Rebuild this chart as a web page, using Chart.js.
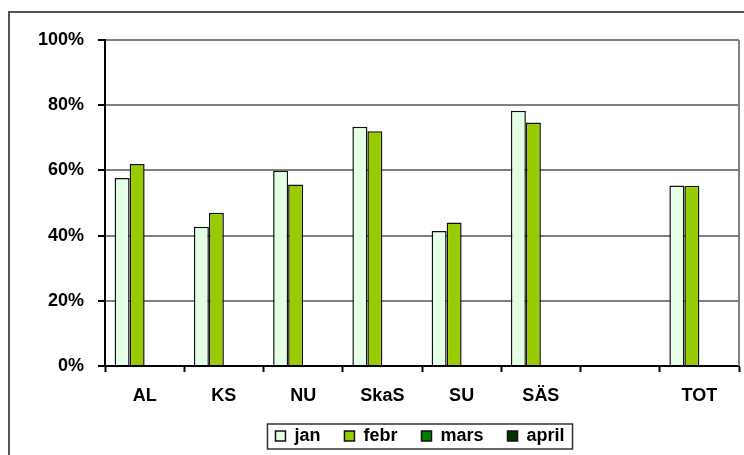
<!DOCTYPE html>
<html><head><meta charset="utf-8">
<script src="https://cdn.jsdelivr.net/npm/chart.js@4/dist/chart.umd.min.js"></script>
<style>html,body{margin:0;padding:0;background:#fff}#wrap{position:relative;width:744px;height:455px}</style>
</head><body><div id="wrap"><canvas id="c" width="744" height="455"></canvas></div>
<script>
const categories = ['AL', 'KS', 'NU', 'SkaS', 'SU', 'SÄS', '', 'TOT'];
const seriesNames = ['jan', 'febr', 'mars', 'april'];
const janValues = [57.7, 42.7, 59.9, 73.4, 41.4, 78.3, null, 55.4];
const febrValues = [62.0, 47.0, 55.7, 72.0, 44.0, 74.7, null, 55.3];
const marsValues = [null, null, null, null, null, null, null, null];
const aprilValues = [null, null, null, null, null, null, null, null];
const yTicks = [0, 20, 40, 60, 80, 100];

const FONT = {family: '"Liberation Sans", Arial, sans-serif', size: 18, weight: 'bold', lineHeight: 1};
const LEGEND_CENTER = 420;

const framePlugin = {
  id: 'frame',
  beforeDraw(chart) {
    const lg = chart.legend;
    if (!lg || lg._shifted) return;
    const hb = lg.legendHitBoxes || [];
    if (!hb.length) return;
    let l = Infinity, r = -Infinity;
    hb.forEach(h => { l = Math.min(l, h.left); r = Math.max(r, h.left + h.width); });
    const d = LEGEND_CENTER - (l + r) / 2;
    lg.left += d; lg.right += d;
    hb.forEach(h => { h.left += d; });
    lg._shifted = true;
  },
  afterDraw(chart) {
    const ctx = chart.ctx, a = chart.chartArea;
    ctx.save();
    ctx.strokeStyle = '#555';
    ctx.lineWidth = 2;
    ctx.beginPath();
    ctx.moveTo(9, 455); ctx.lineTo(9, 12); ctx.lineTo(744, 12);
    ctx.stroke();
    ctx.strokeStyle = '#808080';
    ctx.beginPath();
    ctx.moveTo(a.right, a.top); ctx.lineTo(a.right, a.bottom);
    ctx.stroke();
    const lg = chart.legend;
    if (lg && lg.legendHitBoxes && lg.legendHitBoxes.length) {
      const hb = lg.legendHitBoxes;
      let l = Infinity, r = -Infinity, t = Infinity, b = -Infinity;
      hb.forEach(h => { l = Math.min(l, h.left); r = Math.max(r, h.left + h.width); t = Math.min(t, h.top); b = Math.max(b, h.top + h.height); });
      ctx.strokeStyle = '#333';
      ctx.lineWidth = 1.5;
      ctx.strokeRect(l - 8, t - 3, (r - l) + 16, (b - t) + 7);
    }
    ctx.restore();
  }
};

new Chart(document.getElementById('c'), {
  type: 'bar',
  data: {
    labels: categories,
    datasets: [
      {label: seriesNames[0], data: janValues, backgroundColor: '#e4ffe4', borderColor: '#111', borderWidth: 1.5},
      {label: seriesNames[1], data: febrValues, backgroundColor: '#99cc00', borderColor: '#111', borderWidth: 1.5},
      {label: seriesNames[2], data: marsValues, backgroundColor: '#008000', borderColor: '#111', borderWidth: 1.5},
      {label: seriesNames[3], data: aprilValues, backgroundColor: '#003300', borderColor: '#111', borderWidth: 1.5}
    ]
  },
  options: {
    responsive: false,
    animation: false,
    devicePixelRatio: 1,
    layout: {padding: {left: 9, right: 5, top: 40, bottom: 0}},
    datasets: {bar: {categoryPercentage: 0.757, barPercentage: 1.0}},
    plugins: {
      legend: {
        position: 'bottom',
        labels: {boxWidth: 10, boxHeight: 10, padding: 24, color: '#000', font: FONT}
      },
      tooltip: {enabled: false}
    },
    scales: {
      x: {
        afterFit(s) { s.height = 37; },
        grid: {drawOnChartArea: false, drawTicks: true, tickLength: 6, tickColor: '#000', tickWidth: 2, offset: true},
        border: {color: '#000', width: 2},
        ticks: {color: '#000', font: FONT, padding: 15}
      },
      y: {
        min: 0, max: 100,
        afterFit(s) { s.width = 96; },
        afterBuildTicks(s) { s.ticks = yTicks.map(v => ({value: v})); },
        grid: {color: '#808080', lineWidth: 2, tickColor: '#000', tickLength: 7, tickWidth: 2},
        border: {color: '#000', width: 2},
        ticks: {color: '#000', font: FONT, padding: 14, callback: v => v + '%'}
      }
    }
  },
  plugins: [framePlugin]
});
</script></body></html>
